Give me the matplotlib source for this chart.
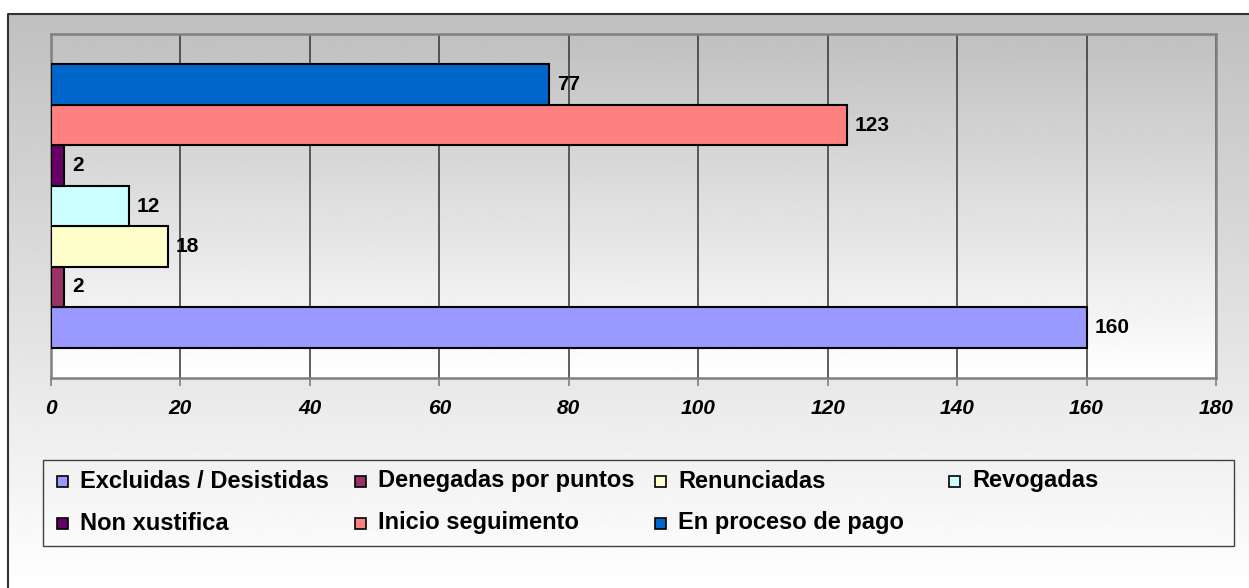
import numpy as np
import matplotlib.pyplot as plt
from matplotlib.patches import Rectangle

# data, bottom bar first
categories = ["Excluidas / Desistidas", "Denegadas por puntos", "Renunciadas",
              "Revogadas", "Non xustifica", "Inicio seguimento", "En proceso de pago"]
values = [160, 2, 18, 12, 2, 123, 77]
colors = ["#9999FF", "#993366", "#FFFFCC", "#CCFFFF", "#660066", "#FF8080", "#0066CC"]
xticks = [0, 20, 40, 60, 80, 100, 120, 140, 160, 180]

plt.rcParams['font.family'] = ['Liberation Sans', 'DejaVu Sans']

W, H = 1249, 588
fig = plt.figure(figsize=(W / 100, H / 100), dpi=100)

# chart area background (gray -> white gradient) in pixel coords
bg = fig.add_axes([0, 0, 1, 1], zorder=-10)
bg.set_xlim(0, W)
bg.set_ylim(H, 0)
bg.axis('off')
grad = np.linspace(0.753, 1.0, 256).reshape(-1, 1)
bg.imshow(grad, cmap='gray', vmin=0, vmax=1, extent=[8, W, H, 14], aspect='auto')
bg.plot([8, 8, W], [H, 14, 14], color='#333333', lw=1.5)

# plot area
ax = fig.add_axes([51 / W, 1 - 378 / H, 1165 / W, 344 / H])
ax.imshow(grad, cmap='gray', vmin=0, vmax=1, extent=[0, 180, -1.25, 7.25],
          aspect='auto', zorder=0)
ax.barh(range(len(values)), values, height=1, color=colors,
        edgecolor='black', linewidth=1.5, zorder=3)
ax.set_xlim(0, 180)
ax.set_ylim(-1.25, 7.25)
ax.set_yticks([])
ax.set_xticks(xticks)
ax.set_xticklabels([str(t) for t in xticks], fontweight='bold',
                   fontstyle='italic', fontsize=15)
ax.tick_params(axis='x', direction='out', length=6, width=1.2,
               color='#808080', pad=9)
ax.xaxis.grid(True, color='#333333', lw=1.1)
for s in ax.spines.values():
    s.set_color('#808080')
    s.set_linewidth(1.8)

for i, v in enumerate(values):
    ax.annotate(str(v), (v, i), xytext=(8, 0), textcoords='offset pixels',
                va='center', ha='left', fontweight='bold', fontsize=15, zorder=4)

# legend, drawn Excel-style with equal column slots
bg.add_patch(Rectangle((43, 460), 1191, 86, fill=False, edgecolor='#404040', lw=1))
col_x = [80, 378, 678, 972]
row_y = [481, 523]
for k, (lab, c) in enumerate(zip(categories, colors)):
    x = col_x[k % 4]
    y = row_y[k // 4]
    bg.add_patch(Rectangle((x - 23, y - 5.5), 11, 11, facecolor=c,
                           edgecolor='black', lw=1.2))
    bg.text(x, y, lab, va='center', ha='left', fontweight='bold', fontsize=17)

fig.savefig('out.png', dpi=100)
